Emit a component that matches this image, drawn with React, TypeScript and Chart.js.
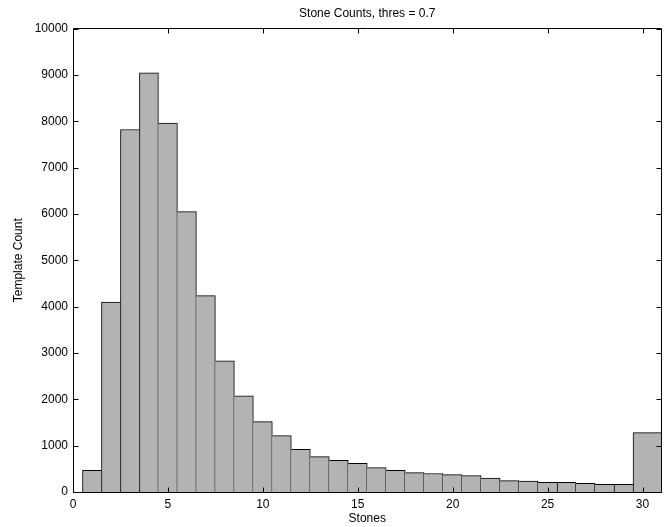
import React, { useEffect, useRef } from 'react';
import { Chart, registerables } from 'chart.js';

Chart.register(...registerables);

const chartTitle = 'Stone Counts, thres = 0.7';
const xTitle = 'Stones';
const yTitle = 'Template Count';

const stones = [1, 2, 3, 4, 5, 6, 7, 8, 9, 10, 11, 12, 13, 14, 15, 16, 17, 18, 19, 20, 21, 22, 23, 24, 25, 26, 27, 28, 29, 30, 31];
const templateCounts = [468, 4095, 7820, 9045, 7960, 6050, 4238, 2832, 2075, 1517, 1215, 921, 762, 684, 619, 525, 468, 417, 400, 374, 352, 302, 244, 237, 209, 209, 187, 166, 166, 1280, 1280];

const xTicks = [0, 5, 10, 15, 20, 25, 30];
const yTicks = [0, 1000, 2000, 3000, 4000, 5000, 6000, 7000, 8000, 9000, 10000];

const FONT = { family: '"Liberation Sans", Arial, Helvetica, sans-serif', size: 12, weight: 'normal' as const };

const framePlugin = {
  id: 'matlabFrame',
  afterDatasetsDraw(chart: any) {
    const { ctx, chartArea, scales } = chart;
    const L = Math.floor(chartArea.left) + 0.5;
    const R = Math.floor(chartArea.right) + 0.5;
    const T = Math.floor(chartArea.top) + 0.5;
    const B = Math.floor(chartArea.bottom) + 0.5;
    const tl = 5;
    ctx.save();
    ctx.strokeStyle = '#000';
    ctx.lineWidth = 1;
    ctx.beginPath();
    ctx.rect(L, T, R - L, B - T);
    ctx.stroke();
    ctx.beginPath();
    for (const v of xTicks) {
      const px = Math.round(scales.x.getPixelForValue(v)) + 0.5;
      ctx.moveTo(px, B);
      ctx.lineTo(px, B - tl);
      ctx.moveTo(px, T);
      ctx.lineTo(px, T + tl);
    }
    for (const v of yTicks) {
      const py = Math.round(scales.y.getPixelForValue(v)) + 0.5;
      ctx.moveTo(L, py);
      ctx.lineTo(L + tl, py);
      ctx.moveTo(R, py);
      ctx.lineTo(R - tl, py);
    }
    ctx.stroke();
    ctx.restore();
  },
};

export default function App() {
  const canvasRef = useRef<HTMLCanvasElement | null>(null);

  useEffect(() => {
    document.body.style.margin = '0';
    const canvas = canvasRef.current;
    if (!canvas) return;
    const last = stones.length - 1;
    // each shared edge is drawn once, by the taller of the two neighbouring bars
    const sides = (i: number) => {
      const v = templateCounts[i];
      const prev = i > 0 ? templateCounts[i - 1] : -1;
      const next = i < last ? templateCounts[i + 1] : Infinity;
      let left = v >= prev ? 1 : 0;
      let right = v > next ? 1 : 0;
      if (i === last) left = 0;
      return { top: 1, left, right, bottom: 0 };
    };
    const chart = new Chart(canvas, {
      type: 'bar',
      data: {
        datasets: [
          {
            data: stones.map((s, i) => ({ x: s, y: templateCounts[i] })),
            backgroundColor: '#b3b3b3',
            borderColor: '#000',
            borderSkipped: false,
            borderWidth: (c: any) => sides(c.dataIndex),
            barPercentage: 1,
            categoryPercentage: 1,
          },
        ],
      },
      options: {
        animation: false,
        responsive: false,
        devicePixelRatio: 1,
        events: [],
        layout: { padding: { left: 0, right: 6.5, top: 0, bottom: 0 } },
        plugins: {
          legend: { display: false },
          tooltip: { enabled: false },
          title: {
            display: true,
            text: chartTitle,
            color: '#000',
            font: FONT,
            fullSize: false,
            padding: { top: 6, bottom: 8.1 },
          },
        },
        scales: {
          x: {
            type: 'linear',
            min: 0,
            max: 31,
            offset: false,
            grid: { display: false, drawTicks: false, offset: false },
            border: { display: false },
            afterBuildTicks: (s: any) => {
              s.ticks = xTicks.map((v) => ({ value: v }));
            },
            afterFit: (s: any) => {
              s.height = 35;
            },
            ticks: {
              padding: 5,
              color: '#000',
              font: FONT,
              maxRotation: 0,
              autoSkip: false,
              callback: (v: any) => String(v),
            },
            title: { display: true, text: xTitle, color: '#000', font: FONT, padding: { top: 0, bottom: 1 } },
          },
          y: {
            type: 'linear',
            min: 0,
            max: 10000,
            grid: { display: false, drawTicks: false },
            border: { display: false },
            afterBuildTicks: (s: any) => {
              s.ticks = yTicks.map((v) => ({ value: v }));
            },
            afterFit: (s: any) => {
              s.width = 73;
            },
            ticks: {
              padding: 5,
              color: '#000',
              font: FONT,
              autoSkip: false,
              callback: (v: any) => String(v),
            },
            title: { display: true, text: yTitle, color: '#000', font: FONT, padding: { top: 11, bottom: 0 } },
          },
        },
      },
      plugins: [framePlugin],
    } as any);
    return () => chart.destroy();
  }, []);

  return (
    <div style={{ position: 'fixed', left: 0, top: 0, width: 668, height: 527, background: '#fff' }}>
      <canvas ref={canvasRef} width={668} height={527} style={{ width: 668, height: 527, display: 'block' }} />
    </div>
  );
}
